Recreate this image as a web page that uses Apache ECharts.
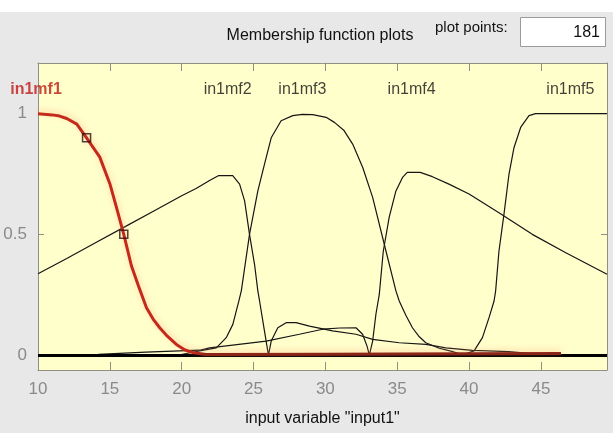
<!DOCTYPE html>
<html>
<head>
<meta charset="utf-8">
<script src="https://cdn.jsdelivr.net/npm/echarts@6/dist/echarts.min.js"></script>
<style>
html,body{margin:0;padding:0;background:#e8e8e8;}
#chart{width:613px;height:433px;}
</style>
</head>
<body>
<div id="chart"></div>
<script>
// ---------- data ----------
const xTicks = [10, 15, 20, 25, 30, 35, 40, 45];
const yTicks = [0, 0.5, 1];
const xMin = 10, xMax = 49.6;

const mfNames  = ['in1mf1', 'in1mf2', 'in1mf3', 'in1mf4', 'in1mf5'];
const mfLabelX = [10, 23.2, 28.4, 36.0, 47.05];
const mfLabelY = [1.1, 1.1, 1.1, 1.1, 1.1];

const mf1X = [10, 11, 11.5, 12, 12.7, 13.38, 14.3, 15.0, 15.47, 15.97, 16.5, 17.0, 17.55, 18.0, 18.47, 19.0, 19.63, 20.2, 20.79, 21.7, 30, 40, 46.4];
const mf1Y = [1.0, 0.995, 0.99, 0.98, 0.957, 0.90, 0.82, 0.71, 0.61, 0.50, 0.37, 0.285, 0.196, 0.15, 0.113, 0.078, 0.044, 0.022, 0.01, 0.002, 0.003, 0.005, 0.006];

const mf2X = [10, 12, 14, 16, 18, 20, 21, 22, 22.55, 23.55, 24.03, 24.38, 24.72, 25.07, 25.3, 25.42, 25.76, 25.99, 26.04, 26.23, 26.69, 27.27, 27.96, 28.89, 30.5, 32.13, 33.29, 35.14, 37.0, 38.38, 40.23, 42.78, 44.5, 46.4];
const mf2Y = [0.337, 0.40, 0.465, 0.53, 0.595, 0.66, 0.69, 0.725, 0.743, 0.743, 0.708, 0.639, 0.50, 0.376, 0.266, 0.224, 0.10, 0.017, 0, 0.058, 0.113, 0.134, 0.134, 0.12, 0.10, 0.086, 0.065, 0.051, 0.044, 0.03, 0.019, 0.014, 0.005, 0];

const mf3X = [10, 19.8, 21.25, 22.41, 23.1, 23.56, 23.98, 24.15, 24.72, 25.3, 25.76, 26.23, 26.92, 27.73, 28.4, 29.12, 30.05, 30.63, 31.3, 31.9, 32.6, 33.29, 34.22, 34.91, 35.14, 35.6, 36.06, 36.5, 36.99, 37.92, 38.8, 39.6, 49.6];
const mf3Y = [0, 0, 0.017, 0.03, 0.072, 0.127, 0.224, 0.266, 0.50, 0.68, 0.79, 0.90, 0.971, 0.992, 0.997, 0.996, 0.985, 0.964, 0.93, 0.874, 0.777, 0.653, 0.43, 0.266, 0.224, 0.165, 0.113, 0.078, 0.051, 0.028, 0.015, 0, 0];

const mf4X = [10, 14.2, 17.5, 21.25, 21.94, 25.88, 28.19, 29.81, 31.0, 32.13, 32.59, 32.9, 33.06, 33.29, 33.52, 33.75, 34.03, 34.44, 34.91, 35.37, 35.7, 36.6, 37.45, 38.6, 40.0, 42.08, 44.4, 46.7, 49.6];
const mf4Y = [0, 0.003, 0.012, 0.02, 0.03, 0.058, 0.086, 0.107, 0.112, 0.113, 0.086, 0.037, 0, 0.058, 0.17, 0.25, 0.43, 0.57, 0.68, 0.736, 0.757, 0.757, 0.739, 0.708, 0.667, 0.59, 0.50, 0.425, 0.335];

const mf5X = [10, 39.5, 40.35, 40.93, 41.39, 41.74, 41.85, 42.08, 42.43, 42.78, 43.13, 43.59, 44.17, 44.63, 49.6];
const mf5Y = [0, 0, 0.017, 0.072, 0.155, 0.224, 0.266, 0.43, 0.584, 0.75, 0.86, 0.943, 0.992, 1.0, 1.0];

const handleX = [13.38, 15.97];
const handleY = [0.90, 0.50];

const titleText = 'Membership function plots';
const plotPointsLabel = 'plot points:';
const plotPointsValue = '181';
const xAxisName = 'input variable "input1"';

// ---------- chart ----------
const FONT = "'Liberation Sans', Arial, sans-serif";
const frameColor = '#8f8f84';
const zip = (xs, ys) => xs.map((x, i) => [x, ys[i]]);

const blackLine = (name, xs, ys) => ({
  name, type: 'line', data: zip(xs, ys), showSymbol: false, z: 3,
  lineStyle: { color: '#151515', width: 1.2 }
});

// mf1 colour: bright red on the falling part, darker red where it lies on the zero line
const redSplit = (21 - mf1X[0]) / (mf1X[mf1X.length - 1] - mf1X[0]);
const mf1Color = new echarts.graphic.LinearGradient(0, 0, 1, 0, [
  { offset: 0, color: '#c42a1c' },
  { offset: redSplit, color: '#c42a1c' },
  { offset: redSplit + 0.02, color: '#8c2418' },
  { offset: 1, color: '#8c2418' }
]);

const chart = echarts.init(document.getElementById('chart'), null, { renderer: 'canvas' });

const axisCommon = {
  type: 'value',
  axisLine: { show: true, onZero: false, lineStyle: { color: frameColor, width: 1 } },
  splitLine: { show: false }
};

const option = {
  animation: false,
  backgroundColor: '#e8e8e8',
  grid: { left: 38, right: 6, top: 63, bottom: 63, show: true, backgroundColor: '#ffffcc', borderWidth: 0 },
  xAxis: [
    Object.assign({}, axisCommon, {
      min: xMin, max: xMax, position: 'bottom',
      axisTick: { inside: true, length: 8, customValues: xTicks, lineStyle: { color: frameColor } },
      axisLabel: { customValues: xTicks, color: '#8a8a8a', fontSize: 17, fontFamily: FONT, margin: 11 },
      name: xAxisName, nameLocation: 'middle', nameGap: 41,
      nameTextStyle: { color: '#111', fontSize: 16, fontFamily: FONT }
    }),
    Object.assign({}, axisCommon, {
      min: xMin, max: xMax, position: 'top',
      axisTick: { inside: true, length: 8, customValues: xTicks, lineStyle: { color: frameColor } },
      axisLabel: { show: false }
    })
  ],
  yAxis: [
    Object.assign({}, axisCommon, {
      min: -0.062, max: 1.21, position: 'left',
      axisTick: { inside: true, length: 6, customValues: yTicks, lineStyle: { color: frameColor } },
      axisLabel: { customValues: yTicks, color: '#8a8a8a', fontSize: 17, fontFamily: FONT, margin: 11 }
    }),
    Object.assign({}, axisCommon, {
      min: -0.062, max: 1.21, position: 'right',
      axisTick: { inside: true, length: 6, customValues: yTicks, lineStyle: { color: frameColor } },
      axisLabel: { show: false }
    })
  ],
  series: [
    Object.assign(blackLine('in1mf2', mf2X, mf2Y), {
      markLine: {
        silent: true, symbol: 'none', label: { show: false },
        lineStyle: { color: '#000', width: 3, type: 'solid' },
        data: [{ yAxis: 0 }]
      }
    }),
    blackLine('in1mf3', mf3X, mf3Y),
    blackLine('in1mf4', mf4X, mf4Y),
    blackLine('in1mf5', mf5X, mf5Y),
    {
      name: 'in1mf1', type: 'line', data: zip(mf1X, mf1Y), showSymbol: false, z: 5,
      lineStyle: { color: mf1Color, width: 3, shadowColor: 'rgba(255,160,110,0.5)', shadowBlur: 6, shadowOffsetY: -2 }
    },
    {
      name: 'handles', type: 'scatter', data: zip(handleX, handleY), z: 6,
      symbol: 'rect', symbolSize: 8,
      itemStyle: { color: 'rgba(0,0,0,0)', borderColor: '#2a1010', borderWidth: 1.5 }
    },
    {
      name: 'labels', type: 'scatter', symbolSize: 0, z: 7, clip: false,
      data: mfNames.map((n, i) => ({
        value: [mfLabelX[i], mfLabelY[i]], name: n,
        label: i === 0
          ? { color: '#c01a14', fontWeight: 'bold', offset: [-2, 0] }
          : { color: '#111' }
      })),
      label: {
        show: true, position: 'inside', formatter: p => p.name,
        fontSize: 16, fontFamily: FONT, color: '#111'
      }
    }
  ],
  graphic: [
    { type: 'rect', left: 0, top: 0, shape: { width: 613, height: 12 }, style: { fill: '#ffffff' }, silent: true },
    { type: 'text', x: 320, y: 36, style: { text: titleText, fontSize: 16, fontFamily: FONT, fill: '#111', align: 'center', verticalAlign: 'middle' } },
    { type: 'text', x: 435, y: 28, style: { text: plotPointsLabel, fontSize: 15, fontFamily: FONT, fill: '#111', align: 'left', verticalAlign: 'middle' } },
    { type: 'rect', shape: { x: 520.5, y: 17.5, width: 85, height: 29 }, style: { fill: '#ffffff', stroke: '#9a9a9a', lineWidth: 1 } },
    { type: 'text', x: 600, y: 33, style: { text: plotPointsValue, fontSize: 16, fontFamily: FONT, fill: '#111', align: 'right', verticalAlign: 'middle' } }
  ]
};

chart.setOption(option);
</script>
</body>
</html>
